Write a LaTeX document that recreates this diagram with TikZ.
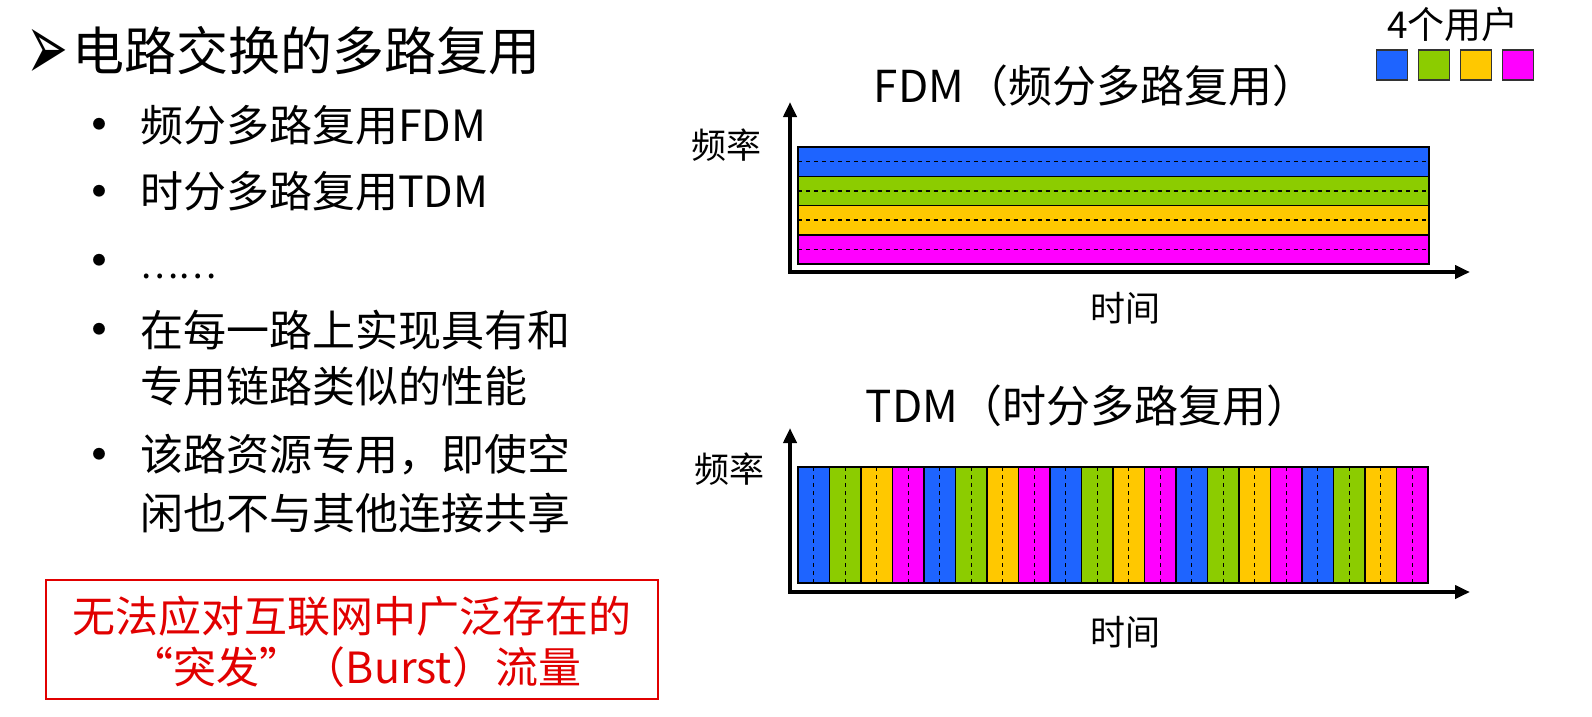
\documentclass[tikz,border=0pt]{standalone}
\usepackage{graphicx}
\usepackage{fontspec}
\setmainfont{Noto Sans CJK SC}
\newfontfamily\symfont{DejaVu Sans}
\usetikzlibrary{arrows.meta}
\definecolor{ublue}{RGB}{30,100,255}
\definecolor{ugreen}{RGB}{140,204,0}
\definecolor{uyellow}{RGB}{255,200,0}
\definecolor{umagenta}{RGB}{255,0,255}
\definecolor{alertred}{RGB}{225,0,0}
\begin{document}
\begin{tikzpicture}[x=1pt,y=-1pt,
  title/.style={inner sep=0pt, anchor=base west, font=\fontsize{52}{60}\selectfont},
  item/.style={inner sep=0pt, anchor=base west, font=\fontsize{43}{52}\selectfont},
  dot/.style={inner sep=0pt, anchor=base, font=\fontsize{56}{60}\selectfont},
  heading/.style={inner sep=0pt, anchor=base, font=\fontsize{44}{52}\selectfont},
  axislabel/.style={inner sep=0pt, anchor=base, font=\fontsize{35}{42}\selectfont},
  alert/.style={inner sep=0pt, anchor=base, text=alertred, font=\fontsize{43}{52}\selectfont},
  axis/.style={line width=4pt, line join=miter,
    {Triangle[length=15pt,width=13pt]}-{Triangle[length=15pt,width=13pt]}},
  band/.style={draw=black, line width=1.5pt},
  mid/.style={line width=1.3pt, dash pattern=on 4pt off 4pt},
  swatch/.style={draw=black!80, line width=1.5pt, minimum width=31pt, minimum height=30pt, inner sep=0pt}]
\useasboundingbox (0,0) rectangle (1592,716);

% left column: heading and bullet list
\node[inner sep=0pt, anchor=base west, font={\symfont\fontsize{64}{70}\selectfont}] (arrow) at (26,80) {\scalebox{0.78}[1.5]{➢}};
\node[title] (head) at (72,70) {电路交换的多路复用};

\node[dot] (d1) at (99,145) {•};
\node[item] (b1) at (140,141) {频分多路复用FDM};
\node[dot] (d2) at (99,212) {•};
\node[item] (b2) at (140,207) {时分多路复用TDM};
\node[dot] (d3) at (99,281) {•};
\node[item, font=\fontsize{36}{44}\selectfont] (b3) at (140,278) {……};
\node[dot] (d4) at (99,350) {•};
\node[item] (b4) at (140,346) {在每一路上实现具有和};
\node[item] (b4b) at (140,402) {专用链路类似的性能};
\node[dot] (d5) at (99,475) {•};
\node[item] (b5) at (140,470) {该路资源专用，即使空};
\node[item] (b5b) at (140,529) {闲也不与其他连接共享};

% note box
\draw[alertred, line width=1.5pt] (46,580) rectangle (658,699);
\node[alert] (n1) at (352,632) {无法应对互联网中广泛存在的};
\node[alert] (n2) at (356,683) {“突发”（Burst）流量};

% legend
\node[axislabel, font=\fontsize{37}{44}\selectfont] (users) at (1453,38) {4个用户};
\node[swatch, fill=ublue] (s1) at (1392,65) {};
\node[swatch, fill=ugreen] (s2) at (1434,65) {};
\node[swatch, fill=uyellow] (s3) at (1476,65) {};
\node[swatch, fill=umagenta] (s4) at (1518,65) {};

% FDM chart
\node[heading] (fdmt) at (1095,102) {FDM（频分多路复用）};
\node[axislabel] (ff) at (726,158) {频率};
\node[axislabel] (ft) at (1125,321) {时间};
\foreach \c [count=\i from 0] in {ublue,ugreen,uyellow,umagenta} {
  \pgfmathsetmacro{\top}{147+29.25*\i}
  \draw[band, fill=\c] (798,\top) rectangle (1429,\top+29.25);
  \draw[mid] (798,\top+14.6) -- (1429,\top+14.6);
}
\coordinate (fy) at (790,102);
\coordinate (fx) at (1470,272);
\draw[axis] (fy) |- (fx);

% TDM chart
\node[heading] (tdmt) at (1088,422) {TDM（时分多路复用）};
\node[axislabel] (tf) at (729,482) {频率};
\node[axislabel] (tt) at (1125,645) {时间};
\foreach \c [count=\i from 0] in {ublue,ugreen,uyellow,umagenta,ublue,ugreen,uyellow,umagenta,ublue,ugreen,uyellow,umagenta,ublue,ugreen,uyellow,umagenta,ublue,ugreen,uyellow,umagenta} {
  \pgfmathsetmacro{\lft}{798+31.5*\i}
  \draw[band, fill=\c] (\lft,467) rectangle (\lft+31.5,583);
  \draw[mid] (\lft+15.75,467) -- (\lft+15.75,583);
}
\coordinate (ty) at (790,428);
\coordinate (tx) at (1470,592);
\draw[axis] (ty) |- (tx);
\end{tikzpicture}
\end{document}
